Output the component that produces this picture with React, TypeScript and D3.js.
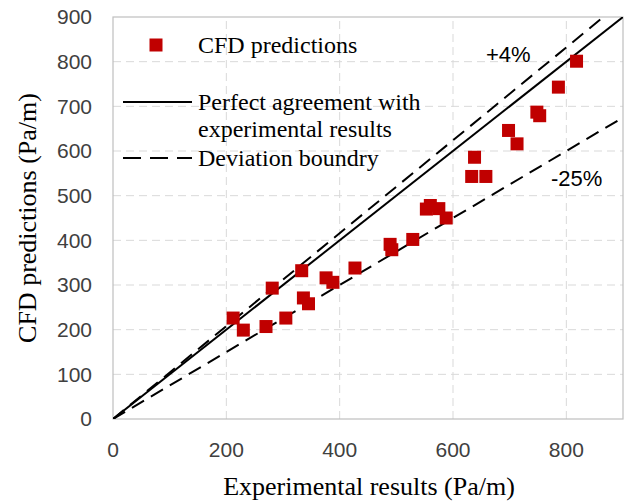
import React, { useEffect, useRef } from 'react';
import * as d3 from 'd3';

// experimental vs CFD pressure gradient (Pa/m)
const experimental = [212, 230, 270, 281, 305, 333, 336, 345, 376, 388, 427, 489, 492, 529, 553, 560, 575, 588, 633, 638, 658, 698, 713, 748, 753, 786, 818];
const cfd = [226, 199, 207, 293, 226, 332, 271, 258, 316, 306, 338, 391, 379, 402, 470, 478, 471, 450, 543, 586, 543, 646, 616, 687, 679, 743, 801];

const xTicks = [0, 200, 400, 600, 800];
const yTicks = [0, 100, 200, 300, 400, 500, 600, 700, 800, 900];

const upperFactor = 1.04;
const lowerFactor = 0.75;

const App = () => {
  const ref = useRef<SVGSVGElement>(null);

  const width = 634;
  const height = 501;
  const margin = { top: 17, right: 11, bottom: 82, left: 113 };

  useEffect(() => {
    drawChart();
  }, []);

  function drawChart() {
    const svg = d3.select(ref.current);
    svg.selectAll('*').remove();

    const x = d3.scaleLinear().domain([0, 900]).range([margin.left, width - margin.right]);
    const y = d3.scaleLinear().domain([0, 900]).range([height - margin.bottom, margin.top]);

    const sans = 'Liberation Sans, Arial, sans-serif';
    const serif = 'Liberation Serif, Times New Roman, serif';

    svg.append('defs')
      .append('clipPath')
      .attr('id', 'plotclip')
      .append('rect')
      .attr('x', x(0))
      .attr('y', y(900))
      .attr('width', x(900) - x(0))
      .attr('height', y(0) - y(900));

    // grid
    svg.append('g')
      .selectAll('line')
      .data(yTicks.filter((d) => d > 0 && d < 900))
      .enter()
      .append('line')
      .attr('x1', x(0))
      .attr('x2', x(900))
      .attr('y1', (d) => y(d))
      .attr('y2', (d) => y(d))
      .attr('stroke', '#d9d9d9')
      .attr('stroke-width', 1)
      .attr('stroke-dasharray', '8,5');

    svg.append('g')
      .selectAll('line')
      .data(xTicks.filter((d) => d > 0))
      .enter()
      .append('line')
      .attr('x1', (d) => x(d))
      .attr('x2', (d) => x(d))
      .attr('y1', y(0))
      .attr('y2', y(900))
      .attr('stroke', '#d9d9d9')
      .attr('stroke-width', 1)
      .attr('stroke-dasharray', '8,5');

    // frame
    svg.append('rect')
      .attr('x', x(0))
      .attr('y', y(900))
      .attr('width', x(900) - x(0))
      .attr('height', y(0) - y(900))
      .attr('fill', 'none')
      .attr('stroke', '#bfbfbf')
      .attr('stroke-width', 1.2);

    // tick labels
    svg.append('g')
      .selectAll('text')
      .data(yTicks)
      .enter()
      .append('text')
      .attr('x', 92)
      .attr('y', (d) => y(d))
      .attr('dy', '0.35em')
      .attr('text-anchor', 'end')
      .style('font-family', sans)
      .style('font-size', '21px')
      .style('fill', '#404040')
      .text((d) => d);

    svg.append('g')
      .selectAll('text')
      .data(xTicks)
      .enter()
      .append('text')
      .attr('x', (d) => x(d))
      .attr('y', 450)
      .attr('dy', '0.35em')
      .attr('text-anchor', 'middle')
      .style('font-family', sans)
      .style('font-size', '21px')
      .style('fill', '#404040')
      .text((d) => d);

    // axis titles
    svg.append('text')
      .attr('x', 369)
      .attr('y', 486)
      .attr('dy', '0.35em')
      .attr('text-anchor', 'middle')
      .style('font-family', serif)
      .style('font-size', '26px')
      .style('fill', '#000')
      .text('Experimental results (Pa/m)');

    svg.append('text')
      .attr('transform', `translate(27, ${(y(0) + y(900)) / 2}) rotate(-90)`)
      .attr('dy', '0.35em')
      .attr('text-anchor', 'middle')
      .style('font-family', serif)
      .style('font-size', '26px')
      .style('fill', '#000')
      .text('CFD predictions (Pa/m)');

    // reference lines
    const line = d3.line<[number, number]>()
      .x((d) => x(d[0]))
      .y((d) => y(d[1]));

    const plot = svg.append('g').attr('clip-path', 'url(#plotclip)');

    plot.append('path')
      .attr('d', line([[0, 0], [900, 900]]))
      .attr('stroke', '#000')
      .attr('stroke-width', 2)
      .attr('fill', 'none');

    plot.append('path')
      .attr('d', line([[0, 0], [900, 900 * upperFactor]]))
      .attr('stroke', '#000')
      .attr('stroke-width', 2)
      .attr('stroke-dasharray', '14,8')
      .attr('fill', 'none');

    plot.append('path')
      .attr('d', line([[0, 0], [900, 900 * lowerFactor]]))
      .attr('stroke', '#000')
      .attr('stroke-width', 2)
      .attr('stroke-dasharray', '14,8')
      .attr('fill', 'none');

    // points
    const size = 13;
    plot.append('g')
      .selectAll('rect')
      .data(experimental.map((e, i) => [e, cfd[i]]))
      .enter()
      .append('rect')
      .attr('x', (d) => x(d[0]) - size / 2)
      .attr('y', (d) => y(d[1]) - size / 2)
      .attr('width', size)
      .attr('height', size)
      .attr('fill', '#c00000');

    // boundary labels
    svg.append('text')
      .attr('x', 486)
      .attr('y', 54)
      .attr('dy', '0.35em')
      .style('font-family', sans)
      .style('font-size', '22px')
      .style('fill', '#000')
      .text('+4%');

    svg.append('text')
      .attr('x', 551)
      .attr('y', 178)
      .attr('dy', '0.35em')
      .style('font-family', sans)
      .style('font-size', '22px')
      .style('fill', '#000')
      .text('-25%');

    // legend
    const legend = svg.append('g');
    const legendFont = (sel) => sel
      .style('font-family', serif)
      .style('font-size', '24px')
      .style('fill', '#000');

    legend.append('rect')
      .attr('x', 156 - 6.5)
      .attr('y', 45 - 6.5)
      .attr('width', 13)
      .attr('height', 13)
      .attr('fill', '#c00000');
    legend.append('text').attr('x', 198).attr('y', 45).attr('dy', '0.35em')
      .call(legendFont).text('CFD predictions');

    legend.append('line')
      .attr('x1', 123).attr('x2', 192).attr('y1', 102).attr('y2', 102)
      .attr('stroke', '#000').attr('stroke-width', 2);
    legend.append('text').attr('x', 198).attr('y', 102).attr('dy', '0.35em')
      .call(legendFont).text('Perfect agreement with');
    legend.append('text').attr('x', 198).attr('y', 129).attr('dy', '0.35em')
      .call(legendFont).text('experimental results');

    legend.append('line')
      .attr('x1', 123).attr('x2', 192).attr('y1', 158).attr('y2', 158)
      .attr('stroke', '#000').attr('stroke-width', 2)
      .attr('stroke-dasharray', '18,9');
    legend.append('text').attr('x', 198).attr('y', 158).attr('dy', '0.35em')
      .call(legendFont).text('Deviation boundry');
  }

  return (
    <svg
      ref={ref}
      width={width}
      height={height}
      style={{ position: 'absolute', left: 0, top: 0, background: '#fff' }}
    />
  );
};

export default App;
